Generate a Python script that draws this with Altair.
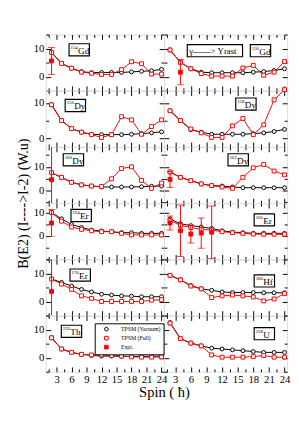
import altair as alt
import pandas as pd

FONT = "Liberation Serif"

spins = [2, 4, 6, 8, 10, 12, 14, 16, 18, 20, 22, 24]

mass_numbers = ["154", "156", "156", "158", "160", "162", "164", "166", "170", "180", "232", "238"]
element_symbols = ["Gd", "Gd", "Dy", "Dy", "Dy", "Dy", "Er", "Er", "Er", "Hf", "Th", "U"]

series_names = ["TPSM (Vacuum)", "TPSM (Full)", "Expt."]

# TPSM (Vacuum) values
vac_154Gd = [8.6, 4.7, 3.0, 1.8, 1.4, 1.5, 1.5, 1.5, 1.7, 1.9, 2.1, 2.6]
vac_156Gd = [9.5, 5.1, 2.8, 1.6, 1.4, 1.4, 1.4, 1.4, 1.6, 1.8, 2.2, 2.8]
vac_156Dy = [9.5, 5.0, 2.7, 1.7, 1.1, 1.0, 1.0, 1.0, 1.1, 1.3, 1.5, 1.8]
vac_158Dy = [7.8, 5.0, 2.4, 1.7, 1.1, 1.1, 1.1, 1.1, 1.3, 1.5, 1.9, 2.5]
vac_160Dy = [7.5, 5.5, 3.4, 2.3, 1.8, 1.4, 1.4, 1.4, 1.4, 1.5, 1.7, 1.8]
vac_162Dy = [7.8, 5.5, 4.1, 2.7, 2.0, 1.8, 1.4, 1.1, 1.1, 1.1, 1.1, 1.1]
vac_164Er = [10.0, 7.3, 4.9, 3.6, 2.5, 2.1, 1.8, 1.4, 1.4, 1.1, 1.1, 1.1]
vac_166Er = [7.3, 5.2, 4.4, 3.8, 3.2, 2.2, 1.6, 1.4, 1.1, 1.1, 1.1, 1.1]
vac_170Er = [8.0, 6.8, 5.5, 4.3, 3.4, 2.6, 2.3, 2.0, 1.9, 1.7, 1.7, 1.7]
vac_180Hf = [9.3, 7.7, 5.7, 4.5, 4.0, 3.4, 3.2, 3.2, 3.2, 3.1, 3.1, 3.1]
vac_232Th = [7.1, 3.1, 1.9, 1.2, 0.8, 0.6, 0.6, 0.5, 0.4, 0.5, 0.5, 0.6]
vac_238U = [12.5, 6.8, 5.2, 4.2, 3.4, 3.1, 2.8, 2.5, 2.2, 1.9, 1.9, 1.9]

# TPSM (Full) values
full_154Gd = [8.6, 4.7, 3.0, 1.6, 1.2, 0.8, 0.8, 2.5, 5.3, 4.6, 0.9, 0.9]
full_156Gd = [9.5, 5.1, 2.8, 1.1, 0.2, 0.2, 0.2, 3.1, 4.0, 0.5, 1.6, 5.4]
full_156Dy = [9.5, 5.0, 2.7, 1.7, 1.0, 0.2, 1.0, 6.1, 5.2, 1.1, 3.3, 5.2]
full_158Dy = [7.8, 5.0, 2.6, 1.5, 0.2, 0.2, 3.5, 5.6, 1.0, 3.8, 10.9, 13.8]
full_160Dy = [7.5, 5.5, 3.4, 2.3, 1.8, 1.6, 4.9, 9.3, 10.0, 4.2, 0.8, 3.1]
full_162Dy = [7.8, 5.5, 4.1, 2.7, 2.0, 1.4, 0.8, 5.5, 9.6, 11.0, 8.2, 6.6]
full_164Er = [10.0, 6.3, 3.8, 2.8, 2.2, 1.8, 1.8, 1.1, 0.4, 0.4, 0.4, 0.4]
full_166Er = [6.6, 4.5, 3.6, 2.8, 2.5, 1.8, 1.4, 1.1, 0.8, 0.7, 0.7, 0.7]
full_170Er = [8.0, 6.2, 4.3, 2.0, 1.1, 0.0, 0.0, 0.0, 0.0, 0.0, 0.5, 0.6]
full_180Hf = [9.3, 7.7, 5.5, 4.5, 1.4, 2.0, 2.3, 2.0, 1.6, 0.2, 0.9, 2.8]
full_232Th = [7.1, 3.1, 1.9, 1.2, 1.0, 1.0, 0.8, 0.6, 0.3, 0.2, 0.2, 0.3]
full_238U = [12.3, 6.8, 5.2, 4.2, 1.0, 0.2, 0.2, 0.2, 0.4, 0.8, 0.2, 0.2]

# Experimental values (spin, value, error)
expt_spin_154Gd = [2]
expt_val_154Gd = [5.6]
expt_err_154Gd = [4.8]
expt_spin_156Gd = [4]
expt_val_156Gd = [1.6]
expt_err_156Gd = [4.5]
expt_spin_160Dy = [2]
expt_val_160Dy = [4.5]
expt_err_160Dy = [30.0]
expt_spin_162Dy = [2]
expt_val_162Dy = [4.6]
expt_err_162Dy = [3.4]
expt_spin_164Er = [2]
expt_val_164Er = [5.5]
expt_err_164Er = [5.8]
expt_spin_166Er = [2, 4, 6, 8, 10]
expt_val_166Er = [5.5, 2.2, 0.8, 1.2, 1.6]
expt_err_166Er = [3.0, 11.0, 3.8, 6.5, 11.2]
expt_spin_170Er = [2]
expt_val_170Er = [3.6]
expt_err_170Er = [30.0]

vac_all = [vac_154Gd, vac_156Gd, vac_156Dy, vac_158Dy, vac_160Dy, vac_162Dy,
           vac_164Er, vac_166Er, vac_170Er, vac_180Hf, vac_232Th, vac_238U]
full_all = [full_154Gd, full_156Gd, full_156Dy, full_158Dy, full_160Dy, full_162Dy,
            full_164Er, full_166Er, full_170Er, full_180Hf, full_232Th, full_238U]
expt_all = {
    0: (expt_spin_154Gd, expt_val_154Gd, expt_err_154Gd),
    1: (expt_spin_156Gd, expt_val_156Gd, expt_err_156Gd),
    4: (expt_spin_160Dy, expt_val_160Dy, expt_err_160Dy),
    5: (expt_spin_162Dy, expt_val_162Dy, expt_err_162Dy),
    6: (expt_spin_164Er, expt_val_164Er, expt_err_164Er),
    7: (expt_spin_166Er, expt_val_166Er, expt_err_166Er),
    8: (expt_spin_170Er, expt_val_170Er, expt_err_170Er),
}

x_major = [3, 6, 9, 12, 15, 18, 21, 24]
x_minor = [1.5, 4.5, 7.5, 10.5, 13.5, 16.5, 19.5, 22.5]

# ---- layout / style (not data) ----
col_widths = [122, 127]
row_height = 58
x_domain = [0.85, 24.5]
y_domains = [(-5, 15), (-2.5, 13.5), (-5.5, 18.5), (-10, 14), (-5, 15), (-5, 15)]
label_boxes = [(24, 9.5), (89, 10.5), (20, 9), (74, 7.5), (18, 7), (66, 7),
               (26, 6.5), (93, 11), (25, 10), (93, 16), (16, 10), (93, 12.5)]
box_w, box_h = 21, 12.5

color_scale = alt.Scale(domain=series_names, range=["black", "red", "red"])
fill_scale = alt.Scale(domain=series_names, range=["white", "white", "red"])
shape_scale = alt.Scale(domain=series_names, range=["circle", "square", "square"])
legend = alt.Legend(orient="none", legendX=50.5, legendY=298, title=None,
                    labelFontSize=6, labelFont=FONT, labelColor="black",
                    symbolSize=14, symbolStrokeWidth=1, strokeColor="black",
                    fillColor="white", padding=3, rowPadding=1.3,
                    symbolOffset=6, labelOffset=12, labelLimit=120)


def make_axis(orient, values, size, labels=False, label_expr=None, title=None, extra=None):
    kw = dict(orient=orient, values=values, tickSize=size, offset=-size, domain=False,
              grid=False, labels=labels, tickColor="black", tickWidth=1, title=title)
    if labels:
        kw.update(labelFontSize=11, labelFont=FONT, labelColor="black", labelPadding=2,
                  labelFlush=False, labelOverlap=False, labelBound=False)
    if label_expr:
        kw["labelExpr"] = label_expr
    if extra:
        kw.update(extra)
    return alt.Axis(**kw)


def panel(i):
    row, col = divmod(i, 2)
    W, H = col_widths[col], row_height
    ydom = y_domains[row]
    y_major = [v for v in (-10, 0, 10) if ydom[0] <= v <= ydom[1]]
    y_minor = [v for v in (-5, 5, 15) if ydom[0] <= v <= ydom[1]]
    xs = alt.Scale(domain=x_domain, nice=False, zero=False)
    ys = alt.Scale(domain=list(ydom), nice=False, zero=False)
    bottom = row == 5
    left = col == 0

    xb_extra, yl_extra = None, None
    xb_title, yl_title = None, None
    if i == 10:
        xb_title = "Spin ( ħ)"
        xb_extra = dict(titleX=W, titleFontSize=15, titleFont=FONT, titleFontWeight="normal",
                        titlePadding=1, titleColor="black")
    if i == 4:
        yl_title = "B(E2) (I---->I-2) (W.u)"
        yl_extra = dict(titleY=H, titleFontSize=14.5, titleFont=FONT, titleFontWeight="normal",
                        titlePadding=3, titleColor="black")

    ax_xb = make_axis("bottom", x_major, 5, labels=bottom, title=xb_title, extra=xb_extra)
    ax_xb2 = make_axis("bottom", x_minor, 3)
    ax_xt = make_axis("top", x_major, 5)
    ax_xt2 = make_axis("top", x_minor, 3)
    ax_yl = make_axis("left", y_major, 5, labels=left,
                      label_expr="datum.value == 0 || datum.value == 10 ? datum.label : ''",
                      title=yl_title, extra=yl_extra)
    ax_yl2 = make_axis("left", y_minor, 3)
    ax_yr = make_axis("right", y_major, 5)
    ax_yr2 = make_axis("right", y_minor, 3)

    wide = pd.DataFrame({"spin": spins, "vac": vac_all[i], "full": full_all[i]})
    long = pd.concat([
        pd.DataFrame({"spin": spins, "val": vac_all[i], "series": series_names[0]}),
        pd.DataFrame({"spin": spins, "val": full_all[i], "series": series_names[1]}),
    ], ignore_index=True)

    layers = []
    layers.append(alt.Chart(wide).mark_line(color="black", strokeWidth=1).encode(
        x=alt.X("spin:Q", scale=xs, axis=ax_xb),
        y=alt.Y("vac:Q", scale=ys, axis=ax_yl)))
    layers.append(alt.Chart(wide).mark_line(color="red", strokeWidth=1, clip=True).encode(
        x=alt.X("spin:Q", scale=xs, axis=ax_xb2),
        y=alt.Y("full:Q", scale=ys, axis=ax_yl2)))
    layers.append(alt.Chart(wide).mark_point(opacity=0).encode(
        x=alt.X("spin:Q", scale=xs, axis=ax_xt2),
        y=alt.Y("vac:Q", scale=ys, axis=ax_yr2)))
    layers.append(alt.Chart(long).mark_point(size=16, strokeWidth=1, opacity=1).encode(
        x=alt.X("spin:Q", scale=xs, axis=ax_xt),
        y=alt.Y("val:Q", scale=ys, axis=ax_yr),
        color=alt.Color("series:N", scale=color_scale, legend=legend),
        fill=alt.Fill("series:N", scale=fill_scale, legend=legend),
        shape=alt.Shape("series:N", scale=shape_scale, legend=legend)))

    if i in expt_all:
        es, ev, ee = expt_all[i]
        edf = pd.DataFrame({"spin": es, "val": ev,
                            "lo": [v - e for v, e in zip(ev, ee)],
                            "hi": [v + e for v, e in zip(ev, ee)],
                            "series": series_names[2]})
        layers.append(alt.Chart(edf).mark_rule(color="red", strokeWidth=1, clip=True).encode(
            x=alt.X("spin:Q", scale=xs, axis=None),
            y=alt.Y("lo:Q", scale=ys, axis=None), y2="hi:Q"))
        for fld in ("lo", "hi"):
            layers.append(alt.Chart(edf).mark_tick(color="red", thickness=1, size=7,
                                                    orient="horizontal", clip=True).encode(
                x=alt.X("spin:Q", scale=xs, axis=None),
                y=alt.Y(f"{fld}:Q", scale=ys, axis=None)))
        layers.append(alt.Chart(edf).mark_point(size=16, strokeWidth=1, opacity=1).encode(
            x=alt.X("spin:Q", scale=xs, axis=None),
            y=alt.Y("val:Q", scale=ys, axis=None),
            color=alt.Color("series:N", scale=color_scale, legend=legend),
            fill=alt.Fill("series:N", scale=fill_scale, legend=legend),
            shape=alt.Shape("series:N", scale=shape_scale, legend=legend)))

    # nucleus label box
    bx, by = label_boxes[i]
    lab = pd.DataFrame({"mass": [mass_numbers[i]], "sym": [element_symbols[i]]})
    layers.append(alt.Chart(lab).mark_rect(fillOpacity=0, stroke="black", strokeWidth=1.2).encode(
        x=alt.value(bx), x2=alt.value(bx + box_w), y=alt.value(by), y2=alt.value(by + box_h)))
    layers.append(alt.Chart(lab).mark_text(align="left", baseline="alphabetic", fontSize=5,
                                           font=FONT, color="black").encode(
        x=alt.value(bx + 1.5), y=alt.value(by + 5.2), text="mass:N"))
    layers.append(alt.Chart(lab).mark_text(align="left", baseline="alphabetic", fontSize=9.5,
                                           font=FONT, color="black").encode(
        x=alt.value(bx + 1.5 + 2.6 * len(mass_numbers[i])), y=alt.value(by + 10.3), text="sym:N"))

    if i == 1:
        gl = pd.DataFrame({"t": ["γ——> Yrast"]})
        layers.append(alt.Chart(gl).mark_rect(fillOpacity=0, stroke="black", strokeWidth=1.2).encode(
            x=alt.value(24), x2=alt.value(81), y=alt.value(10.5), y2=alt.value(23)))
        layers.append(alt.Chart(gl).mark_text(align="left", baseline="alphabetic", fontSize=9,
                                              font=FONT, color="black").encode(
            x=alt.value(26), y=alt.value(20), text="t:N"))

    return alt.layer(*layers).resolve_axis(x="independent", y="independent").properties(
        width=W, height=H)


panels = [panel(i) for i in range(12)]

chart = alt.concat(*panels, columns=2, spacing=0, bounds="flush").properties(
    padding={"left": 7, "top": 20, "right": 0, "bottom": 0}
).configure_view(stroke="black", strokeWidth=1.2).configure(font=FONT)

chart.save("out.html", embed_options={"renderer": "svg", "actions": False})
